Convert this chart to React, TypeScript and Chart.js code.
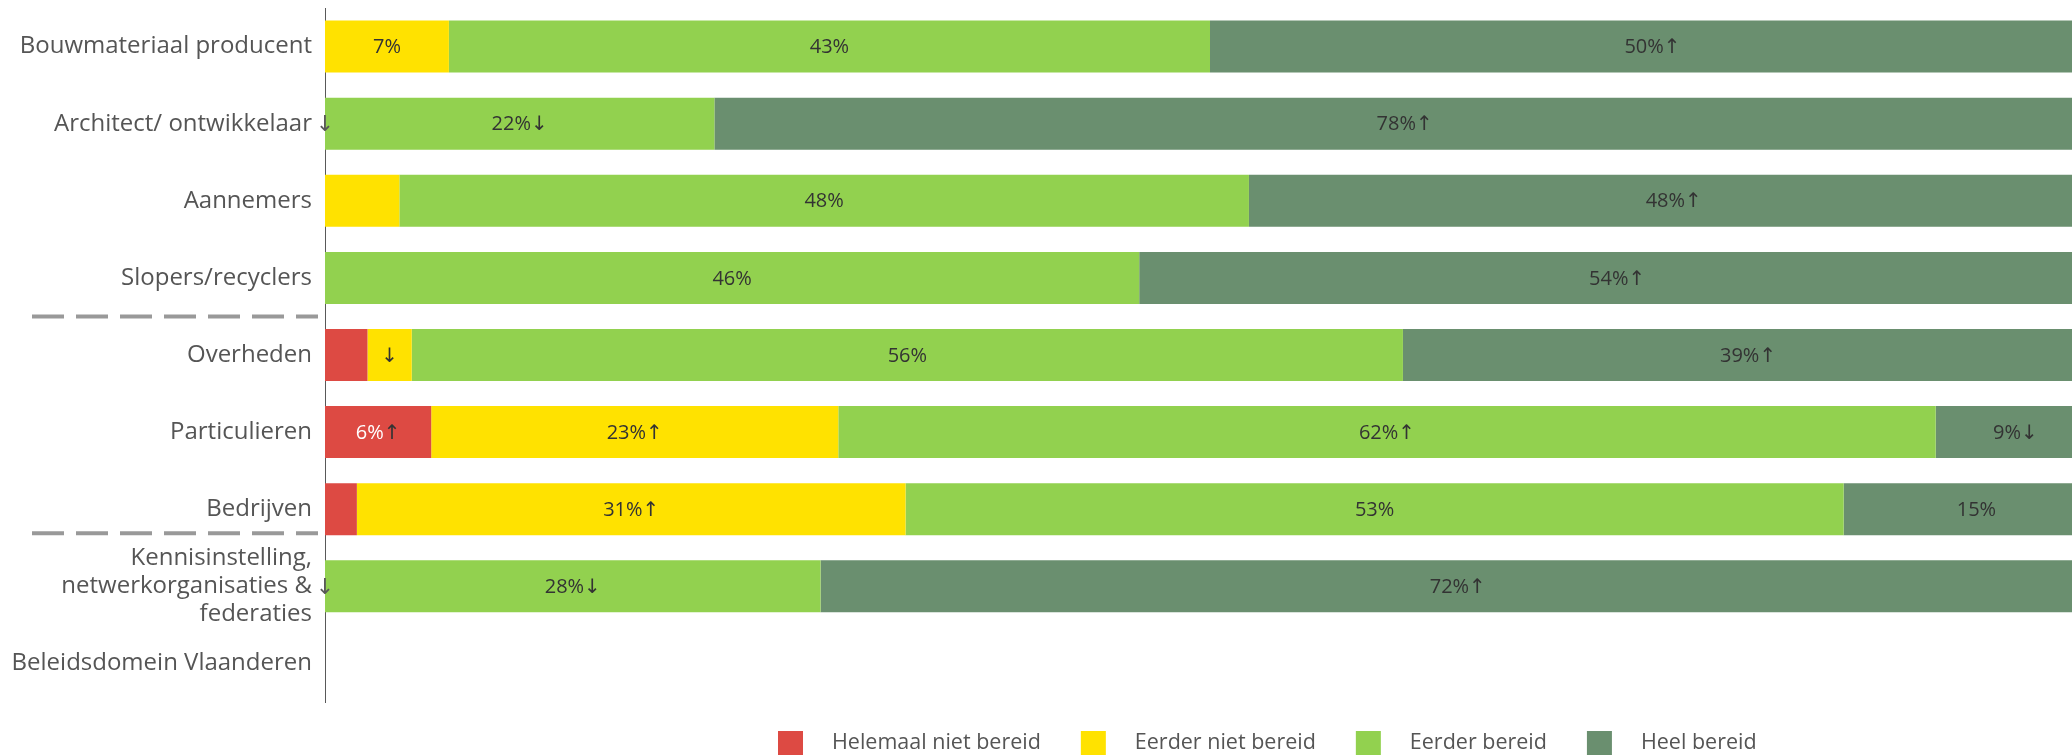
import React, { useEffect, useRef } from 'react';
import { Chart, registerables } from 'chart.js';

Chart.register(...registerables);

const FONT = '"Open Sans", "DejaVu Sans", sans-serif';

const categories: (string | string[])[] = [
  'Bouwmateriaal producent',
  'Architect/ ontwikkelaar',
  'Aannemers',
  'Slopers/recyclers',
  'Overheden',
  'Particulieren',
  'Bedrijven',
  ['Kennisinstelling,', 'netwerkorganisaties &', 'federaties'],
  'Beleidsdomein Vlaanderen',
];
const categoryArrows = ['', '↓', '', '', '', '', '', '↓', ''];

const seriesNames = ['Helemaal niet bereid', 'Eerder niet bereid', 'Eerder bereid', 'Heel bereid'];
const seriesColors = ['#DD4A43', '#FFE200', '#92D14F', '#6A8F6F'];

const helemaalNiet = [0, 0, 0, 0, 2.4, 6, 1.8, 0, null];
const eerderNiet = [7, 0, 4.2, 0, 2.5, 23, 31, 0, null];
const eerderBereid = [43, 22, 48, 46, 56, 62, 53, 28, null];
const heelBereid = [50, 78, 48, 54, 39, 9, 15, 72, null];

const helemaalNietLabels = ['', '', '', '', '', '6%↑', '', '', ''];
const eerderNietLabels = ['7%', '', '', '', '↓', '23%↑', '31%↑', '', ''];
const eerderBereidLabels = ['43%', '22%↓', '48%', '46%', '56%', '62%↑', '53%', '28%↓', ''];
const heelBereidLabels = ['50%↑', '78%↑', '48%↑', '54%↑', '39%↑', '9%↓', '15%', '72%↑', ''];

export default function App() {
  const ref = useRef<HTMLCanvasElement>(null);

  useEffect(() => {
    const canvas = ref.current;
    if (!canvas) return;
    const valueSets = [helemaalNiet, eerderNiet, eerderBereid, heelBereid];
    const labelSets = [helemaalNietLabels, eerderNietLabels, eerderBereidLabels, heelBereidLabels];
    const labelColors = ['#FFFFFF', '#333333', '#333333', '#333333'];

    const barLabels = {
      id: 'barLabels',
      afterDatasetsDraw(chart: any) {
        const ctx = chart.ctx;
        ctx.save();
        ctx.font = `20px ${FONT}`;
        ctx.textBaseline = 'middle';
        ctx.textAlign = 'left';
        chart.data.datasets.forEach((_ds: any, i: number) => {
          const meta = chart.getDatasetMeta(i);
          meta.data.forEach((el: any, j: number) => {
            const label = labelSets[i][j];
            if (!label) return;
            const { x, y, base } = el.getProps(['x', 'y', 'base'], true);
            const cx = (x + base) / 2;
            const last = label.slice(-1);
            const hasArrow = last === '↑' || last === '↓';
            const main = hasArrow ? label.slice(0, -1) : label;
            const arrow = hasArrow ? last : '';
            const wMain = main ? ctx.measureText(main).width : 0;
            const wArrow = arrow ? ctx.measureText(arrow).width : 0;
            const sx = cx - (wMain + wArrow) / 2;
            if (main) {
              ctx.fillStyle = labelColors[i];
              ctx.fillText(main, sx, y + 1);
            }
            if (arrow) {
              ctx.fillStyle = '#333333';
              ctx.fillText(arrow, sx + wMain, y + 1);
            }
          });
        });
        ctx.restore();
      },
    };

    const decorations = {
      id: 'decorations',
      afterDraw(chart: any) {
        const ctx = chart.ctx;
        const yS = chart.scales.y;
        ctx.save();
        // dashed separators
        ctx.strokeStyle = '#999999';
        ctx.lineWidth = 4;
        ctx.setLineDash([32, 12]);
        [3.5, 6.31].forEach((v) => {
          const py = yS.getPixelForValue(v);
          ctx.beginPath();
          ctx.moveTo(32, py);
          ctx.lineTo(318, py);
          ctx.stroke();
        });
        ctx.setLineDash([]);
        // category trend arrows
        ctx.font = `22px ${FONT}`;
        ctx.fillStyle = '#595959';
        ctx.textAlign = 'center';
        ctx.textBaseline = 'middle';
        categoryArrows.forEach((a, j) => {
          if (!a) return;
          ctx.fillText(a, chart.chartArea.left, yS.getPixelForValue(j) + 1);
        });
        // legend
        ctx.font = `21.5px ${FONT}`;
        ctx.textAlign = 'left';
        let lx = 778;
        const by = 731;
        seriesNames.forEach((name, i) => {
          ctx.fillStyle = seriesColors[i];
          ctx.fillRect(lx, by, 25, 24);
          ctx.fillStyle = '#555555';
          ctx.fillText(name, lx + 54, by + 12);
          lx += 54 + ctx.measureText(name).width + 40;
        });
        ctx.restore();
      },
    };

    const chart = new Chart(canvas, {
      type: 'bar',
      data: {
        labels: categories,
        datasets: seriesNames.map((name, i) => ({
          label: name,
          data: valueSets[i],
          backgroundColor: seriesColors[i],
          borderWidth: 0,
          barPercentage: 0.674,
          categoryPercentage: 1,
        })),
      },
      options: {
        indexAxis: 'y',
        responsive: true,
        maintainAspectRatio: false,
        animation: false,
        devicePixelRatio: 1,
        layout: { padding: { top: 8, bottom: 54, left: 0, right: 1 } },
        scales: {
          x: { stacked: true, min: 0, max: 100, display: false },
          y: {
            stacked: true,
            grid: { display: false, drawTicks: false },
            border: { display: true, color: '#595959', width: 1 },
            ticks: {
              autoSkip: false,
              font: { family: FONT, size: 24, lineHeight: 1.17 },
              color: '#555555',
              padding: 13,
            },
            afterFit(scale: any) {
              scale.width = 325;
              scale.paddingTop = 0;
              scale.paddingBottom = 0;
            },
          },
        },
        plugins: {
          legend: { display: false },
          tooltip: { enabled: false },
        },
      },
      plugins: [barLabels, decorations],
    } as any);

    return () => chart.destroy();
  }, []);

  return (
    <div style={{ position: 'fixed', left: 0, top: 0, width: 2072, height: 756, overflow: 'hidden', background: '#fff' }}>
      <div style={{ position: 'absolute', left: 0, top: 0, width: 2096, height: 756 }}>
        <canvas ref={ref} />
      </div>
    </div>
  );
}
